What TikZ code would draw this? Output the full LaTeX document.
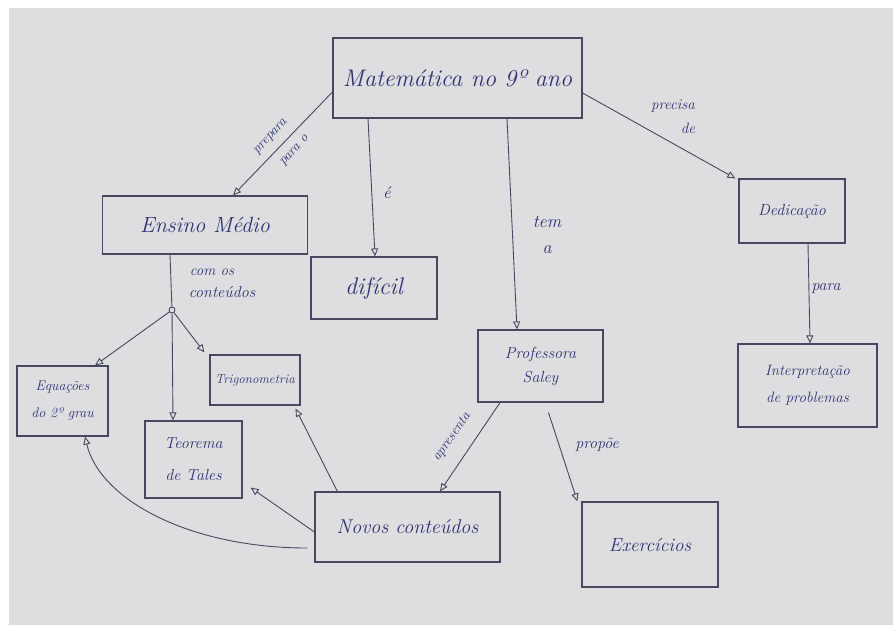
\documentclass[tikz,border=0pt]{standalone}
\usetikzlibrary{arrows.meta}
\definecolor{paper}{RGB}{222,222,224}
\definecolor{ink}{RGB}{45,50,115}
\definecolor{pen}{RGB}{70,72,95}
\tikzset{
  box/.style={draw=pen, line width=1.2pt, inner sep=0pt, text=ink, align=center},
  arr/.style={draw=pen, line width=0.9pt, -{Triangle[open,length=8pt,width=7pt]}},
  plain/.style={draw=pen, line width=0.9pt},
  lbl/.style={text=ink, inner sep=1pt, align=center},
}
\begin{document}
\begin{tikzpicture}[x=1pt,y=-1pt]
% paper
\fill[white] (0,0) rectangle (893,625);
\fill[paper] (9,8) rectangle (893,625);
\useasboundingbox (0,0) rectangle (893,625);

% boxes
\node[box, minimum width=249pt, minimum height=80pt, font=\itshape\fontsize{24}{28}\selectfont] (mat) at (457.5,78) {Matemática no 9º ano};
\node[box, minimum width=205pt, minimum height=58pt, font=\itshape\fontsize{22}{26}\selectfont] (ens) at (205,225) {Ensino Médio};
\node[box, minimum width=126pt, minimum height=62pt, font=\itshape\fontsize{24}{28}\selectfont] (dif) at (374,288) {difícil};
\node[box, minimum width=125pt, minimum height=72pt, font=\itshape\fontsize{16}{24}\selectfont] (prof) at (540.5,366) {Professora\\Saley};
\node[box, minimum width=106pt, minimum height=64pt, font=\itshape\fontsize{16}{20}\selectfont] (ded) at (792,211) {Dedicação};
\node[box, minimum width=139pt, minimum height=83pt, font=\itshape\fontsize{15}{27}\selectfont] (interp) at (807.5,385.5) {Interpretação\\de problemas};
\node[box, minimum width=91pt, minimum height=70pt, font=\itshape\fontsize{14}{27}\selectfont] (equ) at (62.5,401) {Equações\\do 2º grau};
\node[box, minimum width=90pt, minimum height=50pt, font=\itshape\fontsize{13}{16}\selectfont] (trig) at (255,380) {Trigonometria};
\node[box, minimum width=97pt, minimum height=77pt, font=\itshape\fontsize{16}{32}\selectfont] (teo) at (193.5,459.5) {Teorema\\de Tales};
\node[box, minimum width=185pt, minimum height=70pt, font=\itshape\fontsize{20}{24}\selectfont] (novos) at (407.5,527) {Novos conteúdos};
\node[box, minimum width=136pt, minimum height=85pt, font=\itshape\fontsize{19}{23}\selectfont] (exer) at (650,544.5) {Exercícios};

% junction
\node[draw=pen, line width=0.9pt, circle, inner sep=0pt, minimum size=6pt] (j) at (172,310) {};

% connectors
\draw[arr] ([yshift=-14pt]mat.west) -- ([xshift=28pt]ens.north);
\draw[arr] ([xshift=-89.5pt]mat.south) -- ([xshift=1pt]dif.north);
\draw[arr] ([xshift=49.5pt]mat.south) -- ([xshift=-23.5pt]prof.north);
\draw[arr] ([yshift=-15pt]mat.east) -- ([xshift=-3pt]ded.north west);
\draw[arr] ([xshift=16pt]ded.south) -- ([xshift=2.5pt]interp.north);
\draw[plain] ([xshift=-35pt]ens.south) -- (j);
\draw[arr] (j) -- ([xshift=32.5pt]equ.north);
\draw[arr] (j) -- ([xshift=-20.5pt]teo.north);
\draw[arr] (j) -- ([xshift=-5pt,yshift=2pt]trig.north west);
\draw[arr] ([xshift=-40.5pt]prof.south) -- ([xshift=32.5pt]novos.north);
\draw[arr] ([xshift=8pt,yshift=-10pt]prof.south) -- ([xshift=-4pt]exer.north west);
\draw[arr] ([xshift=23pt]novos.north west) -- ([xshift=-5pt,yshift=-3pt]trig.south east);
\draw[arr] ([yshift=-5pt]novos.west) -- ([xshift=8pt,yshift=11pt]teo.south east);
\draw[arr] ([xshift=-7pt,yshift=-21pt]novos.west) .. controls (190,548) and (100,500) .. ([xshift=22.5pt]equ.south);

% connector labels
\node[lbl, rotate=47, font=\itshape\fontsize{14}{16}\selectfont] (l1a) at (271,137) {prepara};
\node[lbl, rotate=47, font=\itshape\fontsize{14}{16}\selectfont] (l1b) at (295,151) {para o};
\node[lbl, font=\itshape\fontsize{17}{19}\selectfont] (l2) at (387,193) {é};
\node[lbl, font=\itshape\fontsize{18}{20}\selectfont] (l3a) at (547,222) {tem};
\node[lbl, font=\itshape\fontsize{18}{20}\selectfont] (l3b) at (547,250) {a};
\node[lbl, font=\itshape\fontsize{15}{17}\selectfont] (l4a) at (673,106) {precisa};
\node[lbl, font=\itshape\fontsize{15}{17}\selectfont] (l4b) at (688,128) {de};
\node[lbl, font=\itshape\fontsize{16}{18}\selectfont] (l5) at (826,289) {para};
\node[lbl, font=\itshape\fontsize{15}{17}\selectfont] (l6a) at (212,272) {com os};
\node[lbl, font=\itshape\fontsize{16}{18}\selectfont] (l6b) at (222,292) {conteúdos};
\node[lbl, rotate=55, font=\itshape\fontsize{14}{16}\selectfont] (l7) at (452,437) {apresenta};
\node[lbl, font=\itshape\fontsize{16}{18}\selectfont] (l8) at (597,445) {propõe};
\end{tikzpicture}
\end{document}
